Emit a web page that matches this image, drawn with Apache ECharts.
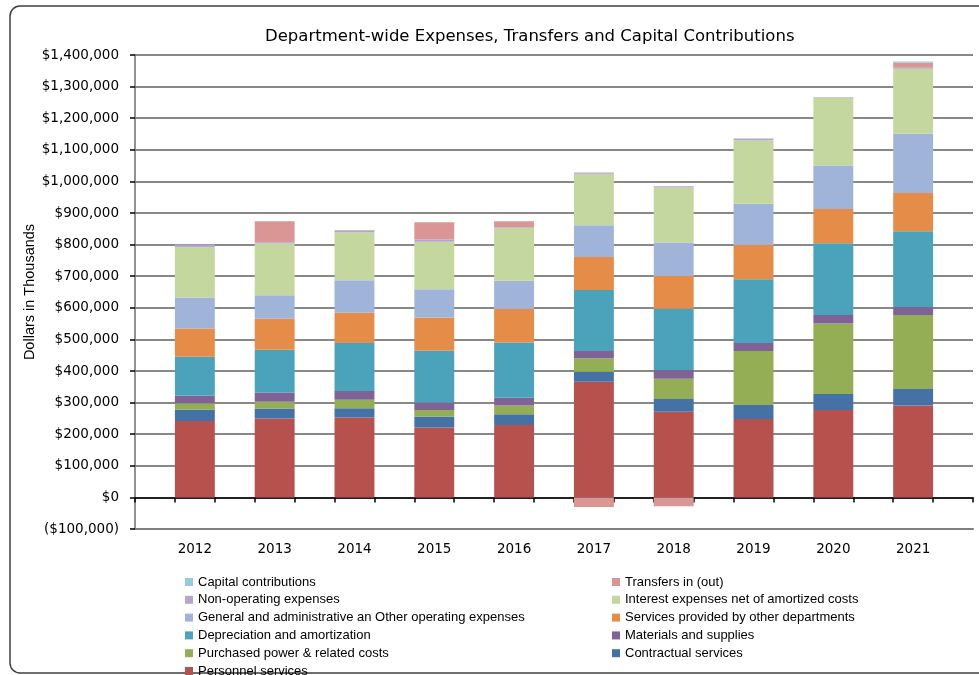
<!DOCTYPE html>
<html>
<head>
<meta charset="utf-8">
<title>Department-wide Expenses, Transfers and Capital Contributions</title>
<script src="https://cdn.jsdelivr.net/npm/echarts@6/dist/echarts.min.js"></script>
<style>
  html, body { margin: 0; padding: 0; background: #ffffff; }
  #chart { width: 979px; height: 675px; }
</style>
</head>
<body>
<div id="chart"></div>
<script>
// Fiscal years on the category axis
const years = ['2012', '2013', '2014', '2015', '2016', '2017', '2018', '2019', '2020', '2021'];

// Y-axis range and step (dollars in thousands)
const yMin = -100000;
const yMax = 1400000;
const yStep = 100000;

// Expense components, stacked bottom to top
const personnelServices   = [242000, 250000, 253000, 221500, 229000, 366000, 271000, 248000, 276500, 291000];
const contractualServices = [35000, 31500, 29500, 34000, 34000, 31500, 40000, 44500, 50500, 52000];
const purchasedPower      = [21000, 21000, 26500, 21000, 27500, 43000, 64500, 171000, 223500, 234000];
const materialsSupplies   = [24500, 28500, 27500, 24000, 25000, 23000, 27500, 25500, 26500, 25500];
const depreciation        = [122500, 136000, 152000, 163500, 175000, 193000, 194000, 201500, 227000, 239500];
const servicesOtherDepts  = [89500, 98000, 96000, 105500, 105500, 104500, 103500, 108500, 108500, 121500];
const generalAdmin        = [98000, 75000, 102500, 89500, 89500, 100000, 106500, 130000, 138000, 187500];
const interestExpenses    = [159500, 163500, 152000, 150000, 167500, 163500, 174000, 201500, 215000, 205500];
const nonOperating        = [8500, 4000, 6500, 7500, 3000, 4000, 4000, 5000, 1500, 3000];
const transfersInOut      = [0, 66500, 0, 54000, 18000, -30000, -28000, 0, 0, 16000];
const capitalContrib      = [0, 0, 0, 0, 0, 0, 0, 0, 0, 4000];

const seriesDefs = [
  { name: 'Personnel services', data: personnelServices, color: '#B6514E' },
  { name: 'Contractual services', data: contractualServices, color: '#4472A7' },
  { name: 'Purchased power & related costs', data: purchasedPower, color: '#94AE56' },
  { name: 'Materials and supplies', data: materialsSupplies, color: '#806396' },
  { name: 'Depreciation and amortization', data: depreciation, color: '#4BA2BB' },
  { name: 'Services provided by other departments', data: servicesOtherDepts, color: '#E58C48' },
  { name: 'General and administrative an Other operating expenses', data: generalAdmin, color: '#A0B4D9' },
  { name: 'Interest expenses net of amortized costs', data: interestExpenses, color: '#C4D79E' },
  { name: 'Non-operating expenses', data: nonOperating, color: '#B4A5CD' },
  { name: 'Transfers in (out)', data: transfersInOut, color: '#D99694' },
  { name: 'Capital contributions', data: capitalContrib, color: '#93CDDD' }
];

// Each year sits in the second half of a two-slot band, with one spare slot at the end
const slots = [];
years.forEach((y, i) => { slots.push('_' + (2 * i)); slots.push(y); });
slots.push('_' + (2 * years.length));

function toSlots(values) {
  const out = [];
  values.forEach(v => { out.push('-'); out.push(v); });
  out.push('-');
  return out;
}

function money(v) {
  const s = '$' + Math.abs(v).toLocaleString('en-US');
  return v < 0 ? '(' + s + ')' : s;
}

const legendLeft = ['Capital contributions', 'Non-operating expenses',
  'General and administrative an Other operating expenses', 'Depreciation and amortization',
  'Purchased power & related costs', 'Personnel services'];
const legendRight = ['Transfers in (out)', 'Interest expenses net of amortized costs',
  'Services provided by other departments', 'Materials and supplies', 'Contractual services'];

const legendCommon = {
  orient: 'vertical',
  top: 575,
  height: 140,
  padding: 0,
  itemGap: 3.8,
  itemWidth: 8,
  itemHeight: 8,
  icon: 'rect',
  selectedMode: false,
  textStyle: { fontFamily: 'Liberation Sans', fontSize: 13, color: '#000', lineHeight: 14 }
};

const chart = echarts.init(document.getElementById('chart'), null, { renderer: 'canvas' });

chart.setOption({
  animation: false,
  backgroundColor: '#ffffff',
  title: {
    text: 'Department-wide Expenses, Transfers and Capital Contributions',
    left: 265,
    top: 28,
    padding: 0,
    textStyle: { fontFamily: 'DejaVu Sans', fontSize: 16.5, fontWeight: 'normal', color: '#000' }
  },
  graphic: [{
    type: 'rect',
    shape: { x: 10, y: 6, width: 1000, height: 667, r: 10 },
    style: { fill: 'none', stroke: '#404040', lineWidth: 1.5 },
    silent: true,
    z: -1
  }],
  legend: [
    Object.assign({}, legendCommon, { left: 185, data: legendLeft }),
    Object.assign({}, legendCommon, { left: 612, data: legendRight })
  ],
  grid: { left: 135, right: 6, top: 55, bottom: 146, containLabel: false },
  xAxis: [
    {
      type: 'category',
      data: slots,
      position: 'bottom',
      boundaryGap: true,
      axisLine: { onZero: true, lineStyle: { color: '#000', width: 1.5 } },
      axisTick: { show: true, interval: 0, length: 5, lineStyle: { color: '#000', width: 1.5 } },
      axisLabel: { show: false },
      splitLine: { show: false }
    },
    {
      type: 'category',
      data: slots,
      position: 'bottom',
      boundaryGap: true,
      axisLine: { onZero: false, lineStyle: { color: '#7f7f7f', width: 2 } },
      axisTick: { show: false },
      axisLabel: {
        interval: 0,
        margin: 13,
        fontFamily: 'DejaVu Sans',
        fontSize: 13.5,
        color: '#000',
        formatter: v => (v.charAt(0) === '_' ? '' : v)
      },
      splitLine: { show: false }
    }
  ],
  yAxis: {
    type: 'value',
    min: yMin,
    max: yMax,
    interval: yStep,
    name: 'Dollars in Thousands',
    nameLocation: 'middle',
    nameGap: 98,
    nameMoveOverlap: false,
    nameTextStyle: { fontFamily: 'Liberation Sans', fontSize: 14.5, color: '#000' },
    axisLine: { show: true, lineStyle: { color: '#6e6e6e', width: 1.5 } },
    axisTick: { show: true, length: 5, lineStyle: { color: '#000', width: 1.5 } },
    axisLabel: {
      margin: 16,
      fontFamily: 'DejaVu Sans',
      fontSize: 13.5,
      color: '#000',
      formatter: money
    },
    splitLine: { show: true, lineStyle: { color: '#606060', width: 1.5 } }
  },
  series: seriesDefs.map(d => ({
    name: d.name,
    type: 'bar',
    stack: 'total',
    xAxisIndex: 0,
    barCategoryGap: '0%',
    barGap: '0%',
    itemStyle: { color: d.color },
    emphasis: { disabled: true },
    data: toSlots(d.data)
  }))
});
</script>
</body>
</html>
